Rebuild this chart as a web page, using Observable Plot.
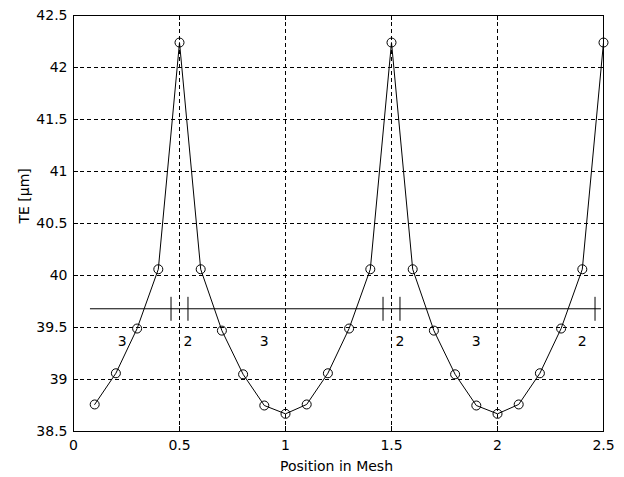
<!DOCTYPE html>
<html>
<head>
<meta charset="utf-8">
<script src="https://cdn.jsdelivr.net/npm/d3@7"></script>
<script src="https://cdn.jsdelivr.net/npm/@observablehq/plot@0.6"></script>
<style>
  html, body { margin: 0; padding: 0; background: #fff; }
  #chart svg { display: block; }
</style>
</head>
<body>
<div id="chart"></div>
<script>
// Transmission error over the mesh cycle
const position = [0.1, 0.2, 0.3, 0.4, 0.5, 0.6, 0.7, 0.8, 0.9, 1.0,
                  1.1, 1.2, 1.3, 1.4, 1.5, 1.6, 1.7, 1.8, 1.9, 2.0,
                  2.1, 2.2, 2.3, 2.4, 2.5];
const te = [38.76, 39.06, 39.49, 40.06, 42.24, 40.06, 39.47, 39.05, 38.75, 38.67,
            38.76, 39.06, 39.49, 40.06, 42.24, 40.06, 39.47, 39.05, 38.75, 38.67,
            38.76, 39.06, 39.49, 40.06, 42.24];

// Tooth-pair contact bar: level, extent and transition marks
const contactLevel = 39.68;
const contactStart = 0.08;
const contactEnd = 2.49;
const transitions = [0.46, 0.54, 1.46, 1.54, 2.46];
const transitionLow = 39.56;
const transitionHigh = 39.79;

// Number of teeth in contact for each zone
const pairLabels = ["3", "2", "3", "2", "3", "2"];
const pairLabelX = [0.23, 0.54, 0.90, 1.54, 1.90, 2.40];
const pairLabelY = 39.37;

// Axis ticks
const xTicks = [0, 0.5, 1, 1.5, 2, 2.5];
const yTicks = [38.5, 39, 39.5, 40, 40.5, 41, 41.5, 42, 42.5];
const xGrid = [0.5, 1, 1.5, 2];
const yGrid = [39, 39.5, 40, 40.5, 41, 41.5, 42];

const xLabel = "Position in Mesh";
const yLabel = "TE [μm]";

const series = position.map((x, i) => ({x, y: te[i]}));
const zones = pairLabels.map((t, i) => ({x: pairLabelX[i], y: pairLabelY, t}));

const W = 624, H = 477;
const mL = 73, mR = 21, mT = 15, mB = 46;
const innerW = W - mL - mR, innerH = H - mT - mB;
const tick = 5;
const fmt = d => String(d);

const chart = Plot.plot({
  width: W,
  height: H,
  marginLeft: mL,
  marginRight: mR,
  marginTop: mT,
  marginBottom: mB,
  x: {domain: [0, 2.5]},
  y: {domain: [38.5, 42.5]},
  style: {fontFamily: "DejaVu Sans", fontSize: "14px", background: "#fff", color: "#000"},
  marks: [
    // dashed grid
    Plot.gridX(xGrid, {stroke: "#000", strokeOpacity: 1, strokeDasharray: "4,3"}),
    Plot.gridY(yGrid, {stroke: "#000", strokeOpacity: 1, strokeDasharray: "4,3"}),
    // inward ticks on all four sides
    Plot.gridX(xTicks, {stroke: "#000", strokeOpacity: 1, insetTop: innerH - tick}),
    Plot.gridX(xTicks, {stroke: "#000", strokeOpacity: 1, insetBottom: innerH - tick}),
    Plot.gridY(yTicks, {stroke: "#000", strokeOpacity: 1, insetRight: innerW - tick}),
    Plot.gridY(yTicks, {stroke: "#000", strokeOpacity: 1, insetLeft: innerW - tick}),
    Plot.frame({stroke: "#000"}),
    Plot.axisX(xTicks, {tickSize: 0, tickPadding: 9, tickFormat: fmt, fill: "#000", label: null}),
    Plot.axisY(yTicks, {tickSize: 0, tickPadding: 6, tickFormat: fmt, fill: "#000", label: null}),
    // axis titles
    Plot.text([xLabel], {frameAnchor: "bottom", dy: 35, dx: -2, lineAnchor: "middle", fill: "#000"}),
    Plot.text([yLabel], {frameAnchor: "left", dx: -49, rotate: -90, lineAnchor: "middle", fill: "#000"}),
    // contact bar
    Plot.ruleY([contactLevel], {x1: contactStart, x2: contactEnd, stroke: "#000"}),
    Plot.ruleX(transitions, {x: d => d, y1: transitionLow, y2: transitionHigh, stroke: "#000"}),
    Plot.text(zones, {x: "x", y: "y", text: "t", fill: "#000"}),
    // transmission error curve
    Plot.line(series, {x: "x", y: "y", stroke: "#000", strokeWidth: 1}),
    Plot.dot(series, {x: "x", y: "y", r: 4.5, stroke: "#000", fill: "none", strokeWidth: 1})
  ]
});

document.getElementById("chart").appendChild(chart);
</script>
</body>
</html>
